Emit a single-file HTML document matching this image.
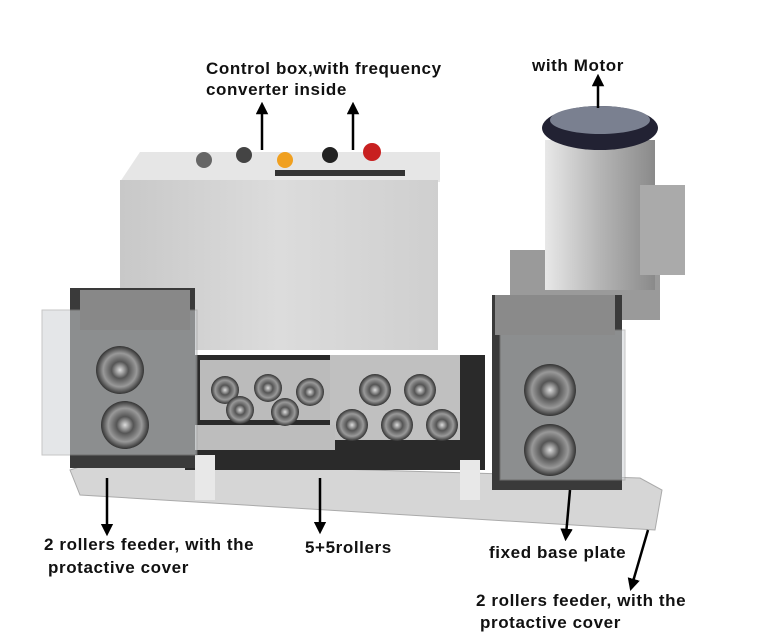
<!DOCTYPE html>
<html><head><meta charset="utf-8">
<style>
html,body{margin:0;padding:0;background:#fff;}
body{width:767px;height:641px;overflow:hidden;position:relative;font-family:"Liberation Sans",sans-serif;}
.t{position:absolute;font-weight:bold;font-size:17px;color:#111;white-space:nowrap;letter-spacing:0.6px}
</style></head><body>
<svg width="767" height="641" style="position:absolute;left:0;top:0">
<defs>
<linearGradient id="box" x1="0" x2="1"><stop offset="0" stop-color="#c8c8c8"/><stop offset="0.5" stop-color="#dcdcdc"/><stop offset="1" stop-color="#cfcfcf"/></linearGradient>
<linearGradient id="mot" x1="0" x2="1"><stop offset="0" stop-color="#e8e8e8"/><stop offset="0.5" stop-color="#b5b5b5"/><stop offset="1" stop-color="#8a8a8a"/></linearGradient>
<radialGradient id="roll"><stop offset="0" stop-color="#ddd"/><stop offset="0.35" stop-color="#555"/><stop offset="0.7" stop-color="#999"/><stop offset="1" stop-color="#333"/></radialGradient>
<marker id="ah" viewBox="0 0 10 10" refX="5" refY="5" markerWidth="5" markerHeight="5" orient="auto"><path d="M0,0 L10,5 L0,10 z" fill="#000"/></marker>
</defs>
<polygon points="70,470 95,462 640,478 662,490 655,530 80,495" fill="#d6d6d6" stroke="#aaa"/>
<polygon points="120,182 140,152 440,152 440,182" fill="#e6e6e6"/>
<rect x="120" y="180" width="318" height="170" fill="url(#box)"/>
<rect x="275" y="170" width="130" height="6" fill="#333"/>
<g>
<circle cx="204" cy="160" r="8" fill="#666"/><circle cx="244" cy="155" r="8" fill="#444"/>
<circle cx="285" cy="160" r="8" fill="#f0a020"/><circle cx="330" cy="155" r="8" fill="#222"/>
<circle cx="372" cy="152" r="9" fill="#c82020"/>
</g>
<rect x="510" y="250" width="150" height="70" fill="#9a9a9a"/>
<rect x="545" y="140" width="110" height="150" fill="url(#mot)"/>
<rect x="640" y="185" width="45" height="90" fill="#aaa"/>
<ellipse cx="600" cy="128" rx="58" ry="22" fill="#223" />
<ellipse cx="600" cy="120" rx="50" ry="14" fill="#7a8090"/>
<rect x="185" y="355" width="300" height="115" fill="#2a2a2a"/>
<rect x="200" y="360" width="130" height="60" fill="#bbb"/>
<rect x="330" y="355" width="130" height="85" fill="#c0c0c0"/>
<rect x="190" y="425" width="145" height="25" fill="#bdbdbd"/>
<g fill="url(#roll)">
<circle cx="225" cy="390" r="14"/><circle cx="268" cy="388" r="14"/><circle cx="310" cy="392" r="14"/>
<circle cx="240" cy="410" r="14"/><circle cx="285" cy="412" r="14"/>
<circle cx="375" cy="390" r="16"/><circle cx="420" cy="390" r="16"/>
<circle cx="352" cy="425" r="16"/><circle cx="397" cy="425" r="16"/><circle cx="442" cy="425" r="16"/>
</g>
<rect x="195" y="455" width="20" height="45" fill="#e8e8e8"/>
<rect x="460" y="460" width="20" height="40" fill="#e8e8e8"/>
<rect x="70" y="288" width="125" height="180" fill="#3a3a3a"/>
<rect x="42" y="310" width="155" height="145" fill="#cfd3d6" opacity="0.55" stroke="#999"/>
<rect x="80" y="290" width="110" height="40" fill="#888"/>
<circle cx="120" cy="370" r="24" fill="url(#roll)"/>
<circle cx="125" cy="425" r="24" fill="url(#roll)"/>
<rect x="492" y="295" width="130" height="195" fill="#3a3a3a"/>
<rect x="500" y="330" width="125" height="150" fill="#cfd3d6" opacity="0.55" stroke="#999"/>
<rect x="495" y="295" width="120" height="40" fill="#8a8a8a"/>
<circle cx="550" cy="390" r="26" fill="url(#roll)"/>
<circle cx="550" cy="450" r="26" fill="url(#roll)"/>
<g stroke="#000" stroke-width="2.5" fill="none" marker-end="url(#ah)">
<line x1="262" y1="150" x2="262" y2="108"/>
<line x1="353" y1="150" x2="353" y2="108"/>
<line x1="598" y1="108" x2="598" y2="80"/>
<line x1="107" y1="478" x2="107" y2="530"/>
<line x1="320" y1="478" x2="320" y2="528"/>
<line x1="570" y1="490" x2="566" y2="535"/>
<line x1="648" y1="530" x2="632" y2="585"/>
</g>
</svg>
<div class="t" style="left:206px;top:59px">Control box,with frequency</div>
<div class="t" style="left:206px;top:80px">converter inside</div>
<div class="t" style="left:532px;top:56px">with Motor</div>
<div class="t" style="left:44px;top:535px">2 rollers feeder, with the</div>
<div class="t" style="left:48px;top:558px">protactive cover</div>
<div class="t" style="left:305px;top:538px">5+5rollers</div>
<div class="t" style="left:489px;top:543px">fixed base plate</div>
<div class="t" style="left:476px;top:591px">2 rollers feeder, with the</div>
<div class="t" style="left:480px;top:613px">protactive cover</div>
</body></html>
